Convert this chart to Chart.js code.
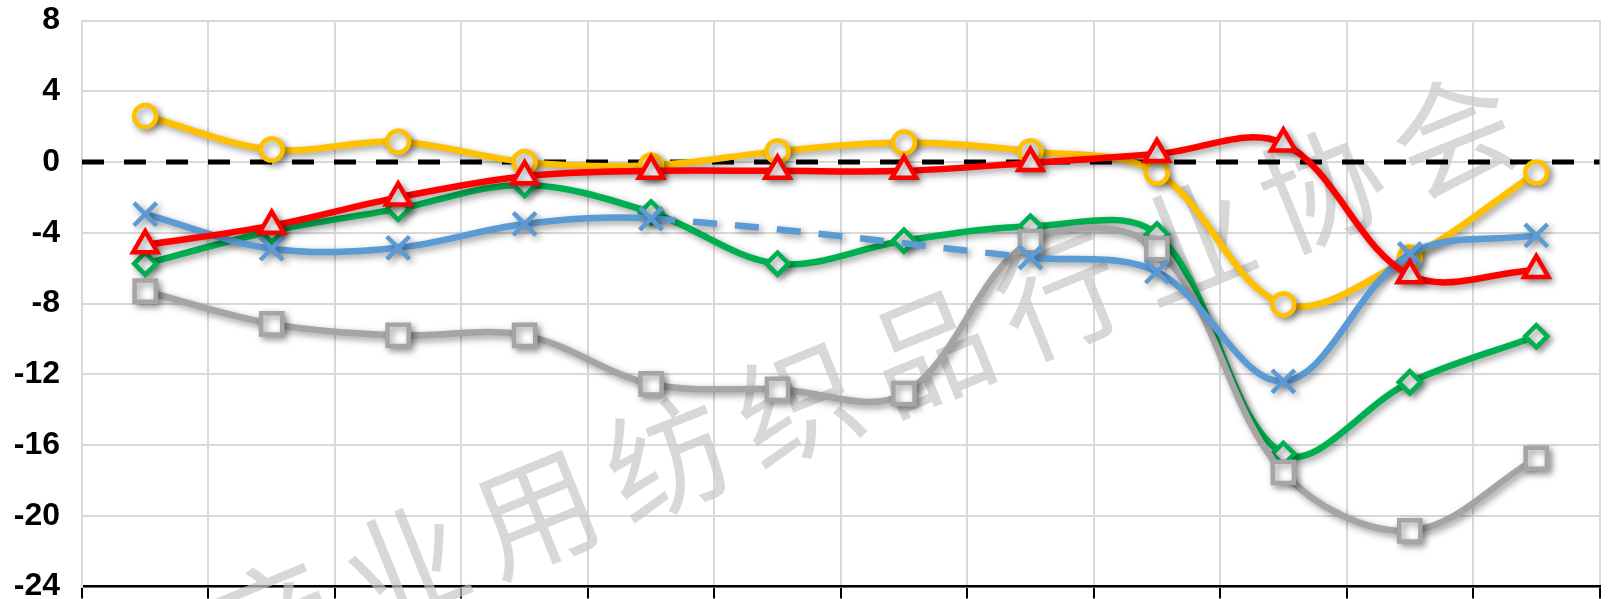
<!DOCTYPE html>
<html>
<head>
<meta charset="utf-8">
<script src="https://cdn.jsdelivr.net/npm/chart.js@4/dist/chart.umd.min.js"></script>
<style>
  html, body { margin: 0; padding: 0; overflow: hidden; background: #fff; }
  canvas { display: block; }
</style>
</head>
<body>
<canvas id="chart" width="1620" height="607"></canvas>
<script>
// 月份（圖中未顯示標籤）
const months = ['1月', '2月', '3月', '4月', '5月', '6月', '7月', '8月', '9月', '10月', '11月', '12月'];

// 各序列數值
const yellowData = [2.6, 0.7, 1.15, 0.0, -0.2, 0.6, 1.1, 0.6, -0.6, -8.05, -5.4, -0.6];
const redData    = [-4.7, -3.6, -2.0, -0.8, -0.5, -0.5, -0.5, -0.05, 0.45, 1.05, -6.4, -6.1];
const greenData  = [-5.75, -3.9, -2.65, -1.3, -2.85, -5.75, -4.45, -3.65, -4.1, -16.5, -12.45, -9.85];
const blueData   = [-2.95, -4.9, -4.85, -3.5, -3.2, null, null, -5.4, -6.2, -12.4, -5.2, -4.15];
const grayData   = [-7.3, -9.15, -9.8, -9.8, -12.55, -12.85, -13.1, -4.5, -4.9, -17.55, -20.85, -16.75];

const yTicks = [-24, -20, -16, -12, -8, -4, 0, 4, 8];
const watermarkText = '产业用纺织品行业协会';

// 水印
const watermark = {
    id: 'watermark',
    beforeDatasetsDraw(chart) {
        const ctx = chart.ctx;
        ctx.save();
        ctx.fillStyle = 'rgba(200,200,200,0.7)';
        ctx.font = '400 122px "Noto Sans CJK SC"';
        ctx.textAlign = 'center';
        ctx.textBaseline = 'middle';
        const chars = Array.from(watermarkText);
        // 第二個字「业」在左下，最後一個字「会」在右上
        const x0 = 405 - 131, y0 = 566 + 54;
        chars.forEach((ch, i) => {
            ctx.save();
            ctx.translate(x0 + i * 131, y0 - i * 54);
            ctx.rotate(-22 * Math.PI / 180);
            ctx.fillText(ch, 0, 0);
            ctx.restore();
        });
        ctx.restore();
    }
};

// 零軸虛線
const zeroLine = {
    id: 'zeroLine',
    beforeDatasetsDraw(chart) {
        const { ctx, chartArea, scales: { y } } = chart;
        const py = y.getPixelForValue(0);
        ctx.save();
        ctx.strokeStyle = '#000';
        ctx.lineWidth = 5;
        ctx.setLineDash([22, 20]);
        ctx.beginPath();
        ctx.moveTo(chartArea.left, py);
        ctx.lineTo(chartArea.right, py);
        ctx.stroke();
        ctx.restore();
    }
};

// 線條陰影
const shadow = {
    id: 'shadow',
    beforeDatasetDraw(chart) {
        const ctx = chart.ctx;
        ctx.save();
        ctx.shadowColor = 'rgba(0,0,0,0.4)';
        ctx.shadowBlur = 7;
        ctx.shadowOffsetX = 3;
        ctx.shadowOffsetY = 3;
    },
    afterDatasetDraw(chart) {
        chart.ctx.restore();
    }
};

function series(label, data, color, style, radius) {
    return {
        label: label,
        data: data,
        borderColor: color,
        backgroundColor: '#fff',
        borderWidth: 6.5,
        tension: 0.35,
        pointStyle: style,
        pointRadius: radius,
        pointBorderWidth: 4.5,
        pointBorderColor: color,
        pointBackgroundColor: '#fff',
        fill: false
    };
}

const blueSeries = series('系列4', blueData, '#5B9BD5', 'crossRot', 16);
blueSeries.spanGaps = true;
blueSeries.segment = {
    borderDash: ctx => (ctx.p0.skip || ctx.p1.skip) ? [24, 18] : undefined
};

// 前面的先畫在上層
const chart = new Chart(document.getElementById('chart'), {
    type: 'line',
    data: {
        labels: months,
        datasets: [
            series('系列2', redData, '#FF0000', 'triangle', 14),
            blueSeries,
            series('系列1', yellowData, '#FFC000', 'circle', 11),
            series('系列5', grayData, '#A5A5A5', 'rect', 15),
            series('系列3', greenData, '#00B050', 'rectRot', 11)
        ]
    },
    options: {
        responsive: false,
        animation: false,
        layout: { padding: { top: 11, right: 2, left: 0, bottom: 0 } },
        plugins: {
            legend: { display: false },
            tooltip: { enabled: false },
            title: { display: false }
        },
        scales: {
            x: {
                offset: true,
                afterFit: s => { s.height = 12; },
                grid: {
                    offset: true,
                    color: '#d9d9d9',
                    lineWidth: 2,
                    drawTicks: true,
                    tickLength: 12,
                    tickColor: '#000',
                    tickWidth: 2
                },
                border: { color: '#000', width: 2.5 },
                ticks: { display: false }
            },
            y: {
                min: -24,
                max: 8,
                afterBuildTicks: s => { s.ticks = yTicks.map(v => ({ value: v })); },
                afterFit: s => { s.width = 82; },
                grid: {
                    color: '#d9d9d9',
                    lineWidth: 2,
                    drawTicks: true,
                    tickLength: 22,
                    tickColor: 'rgba(0,0,0,0)'
                },
                border: { color: '#d9d9d9', width: 2 },
                ticks: {
                    color: '#000',
                    padding: 0,
                    font: { family: 'Liberation Sans', size: 32, weight: 'bold', lineHeight: 0.75 }
                }
            }
        }
    },
    plugins: [watermark, zeroLine, shadow]
});
</script>
</body>
</html>
